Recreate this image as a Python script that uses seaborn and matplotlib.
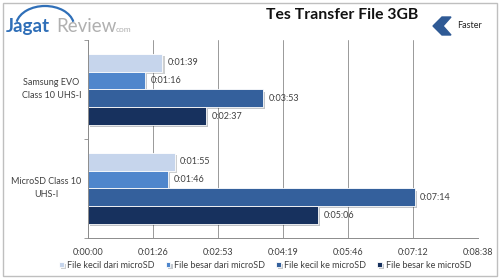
import pandas as pd
import numpy as np
import matplotlib as mpl
import matplotlib.pyplot as plt
import matplotlib.patheffects as pe
from matplotlib.patches import Polygon, Rectangle, Arc
from matplotlib.ticker import FuncFormatter
import seaborn as sns

# data (seconds)
devices = ["Samsung EVO\nClass 10 UHS-I", "MicroSD Class 10\nUHS-I"]
series = ["File kecil dari microSD", "File besar dari microSD",
          "File kecil ke microSD", "File besar ke microSD"]
samsung_sec = [99, 76, 233, 157]
microsd_sec = [115, 106, 434, 306]
tick_sec = [0, 86.4, 172.8, 259.2, 345.6, 432, 518.4]

colors = ["#c6d5ec", "#4f86cc", "#34609c", "#17315e"]


def fmt_time(sec):
    sec = int(round(sec))
    return f"{sec // 3600}:{(sec % 3600) // 60:02d}:{sec % 60:02d}"


df = pd.DataFrame({
    "device": [devices[0]] * 4 + [devices[1]] * 4,
    "series": series * 2,
    "sec": samsung_sec + microsd_sec,
})

sns.set_style("white")
plt.rcParams['font.family'] = ['Lato', 'DejaVu Sans']

fig = plt.figure(figsize=(5, 2.79), dpi=100)
ax = fig.add_axes([0.176, 0.147, 0.78, 0.71])

sns.barplot(data=df, y="device", x="sec", hue="series", hue_order=series,
            palette=colors, orient="h", width=0.72, ax=ax, legend=True,
            edgecolor="white", linewidth=0.6, saturation=1)

for bar in ax.patches:
    bar.set_path_effects([pe.SimplePatchShadow(offset=(1.5, -1.5), alpha=0.25), pe.Normal()])

for cont in ax.containers:
    ax.bar_label(cont, labels=[fmt_time(v) for v in cont.datavalues],
                 padding=4, fontsize=6.5, color="#404040")

ax.set_xlim(0, tick_sec[-1])
ax.set_xticks(tick_sec)
ax.xaxis.set_major_formatter(FuncFormatter(lambda v, p: fmt_time(v)))
ax.tick_params(axis="x", labelsize=6.5, colors="#404040", length=3, color="#8c8c8c", pad=4)
ax.set_ylim(1.5, -0.5)
ax.tick_params(axis="y", length=0, labelleft=False)

# category labels: block right-aligned near the axis, each line centred in it
renderer = fig.canvas.get_renderer()
gap_px = 7
for i, name in enumerate(devices):
    texts = []
    for j, line in enumerate(name.split("\n")):
        t = ax.annotate(line, xy=(0, i), xycoords=ax.get_yaxis_transform(),
                        xytext=(0, 4.7 - 9.4 * j), textcoords="offset points",
                        ha="center", va="center", fontsize=6.5, color="#404040")
        texts.append(t)
    width = max(t.get_window_extent(renderer).width for t in texts)
    shift_pt = -(gap_px + width / 2) * 72 / fig.dpi
    for t in texts:
        x0, y0 = t.xyann
        t.xyann = (shift_pt, y0)

ax.grid(axis="x", color="#999999", linewidth=0.7)
ax.set_axisbelow(True)
ax.set_xlabel("")
ax.set_ylabel("")
for s in ["top", "right"]:
    ax.spines[s].set_visible(False)
for s in ["left", "bottom"]:
    ax.spines[s].set_color("#8c8c8c")
    ax.spines[s].set_linewidth(0.7)

# category separator ticks on the left axis
ax.set_yticks([-0.5, 0.5, 1.5], minor=True)
ax.tick_params(axis="y", which="minor", length=3, color="#8c8c8c", left=True)

handles, labels = ax.get_legend_handles_labels()
ax.legend_.remove()
fig.legend(handles, labels, loc="center", bbox_to_anchor=(0.53, 0.05), ncol=4,
           frameon=False, fontsize=6.5, handlelength=0.55, handleheight=0.55,
           handletextpad=0.4, columnspacing=1.2, labelcolor="#404040")

# title and decorations
fig.text(0.684, 0.945, "Tes Transfer File 3GB", ha="center", va="center",
         fontsize=11.3, fontweight="bold", color="#111111")
fig.add_artist(Polygon([(451 / 500, 1 - 17 / 279), (442 / 500, 1 - 17 / 279),
                        (433 / 500, 1 - 26 / 279), (442 / 500, 1 - 35 / 279),
                        (451 / 500, 1 - 35 / 279), (443 / 500, 1 - 26 / 279)],
                       closed=True, transform=fig.transFigure, color="#2f5a95"))
fig.text(0.938, 0.91, "Faster", ha="center", va="center", fontsize=6.5, color="#222222")

# logo
fig.text(0.012, 0.905, "Jagat", ha="left", va="center", fontsize=13.5,
         fontweight="bold", color="#2f6fb8")
fig.text(0.112, 0.905, "Review", ha="left", va="center", fontsize=13.5, color="#b0b0b0")
fig.add_artist(Arc((45 / 500, 1 - 26 / 279), 58 / 500, 40 / 279, theta1=15, theta2=165,
                   transform=fig.transFigure, color="#2f6fb8", linewidth=1.6))
fig.text(0.232, 0.893, "com", ha="left", va="center", fontsize=6, color="#b0b0b0")

fig.add_artist(Rectangle((3 / 500, 3 / 279), 494 / 500, 273 / 279, transform=fig.transFigure,
                         fill=False, edgecolor="#bfbfbf", linewidth=1))

fig.savefig("out.png", dpi=100)
